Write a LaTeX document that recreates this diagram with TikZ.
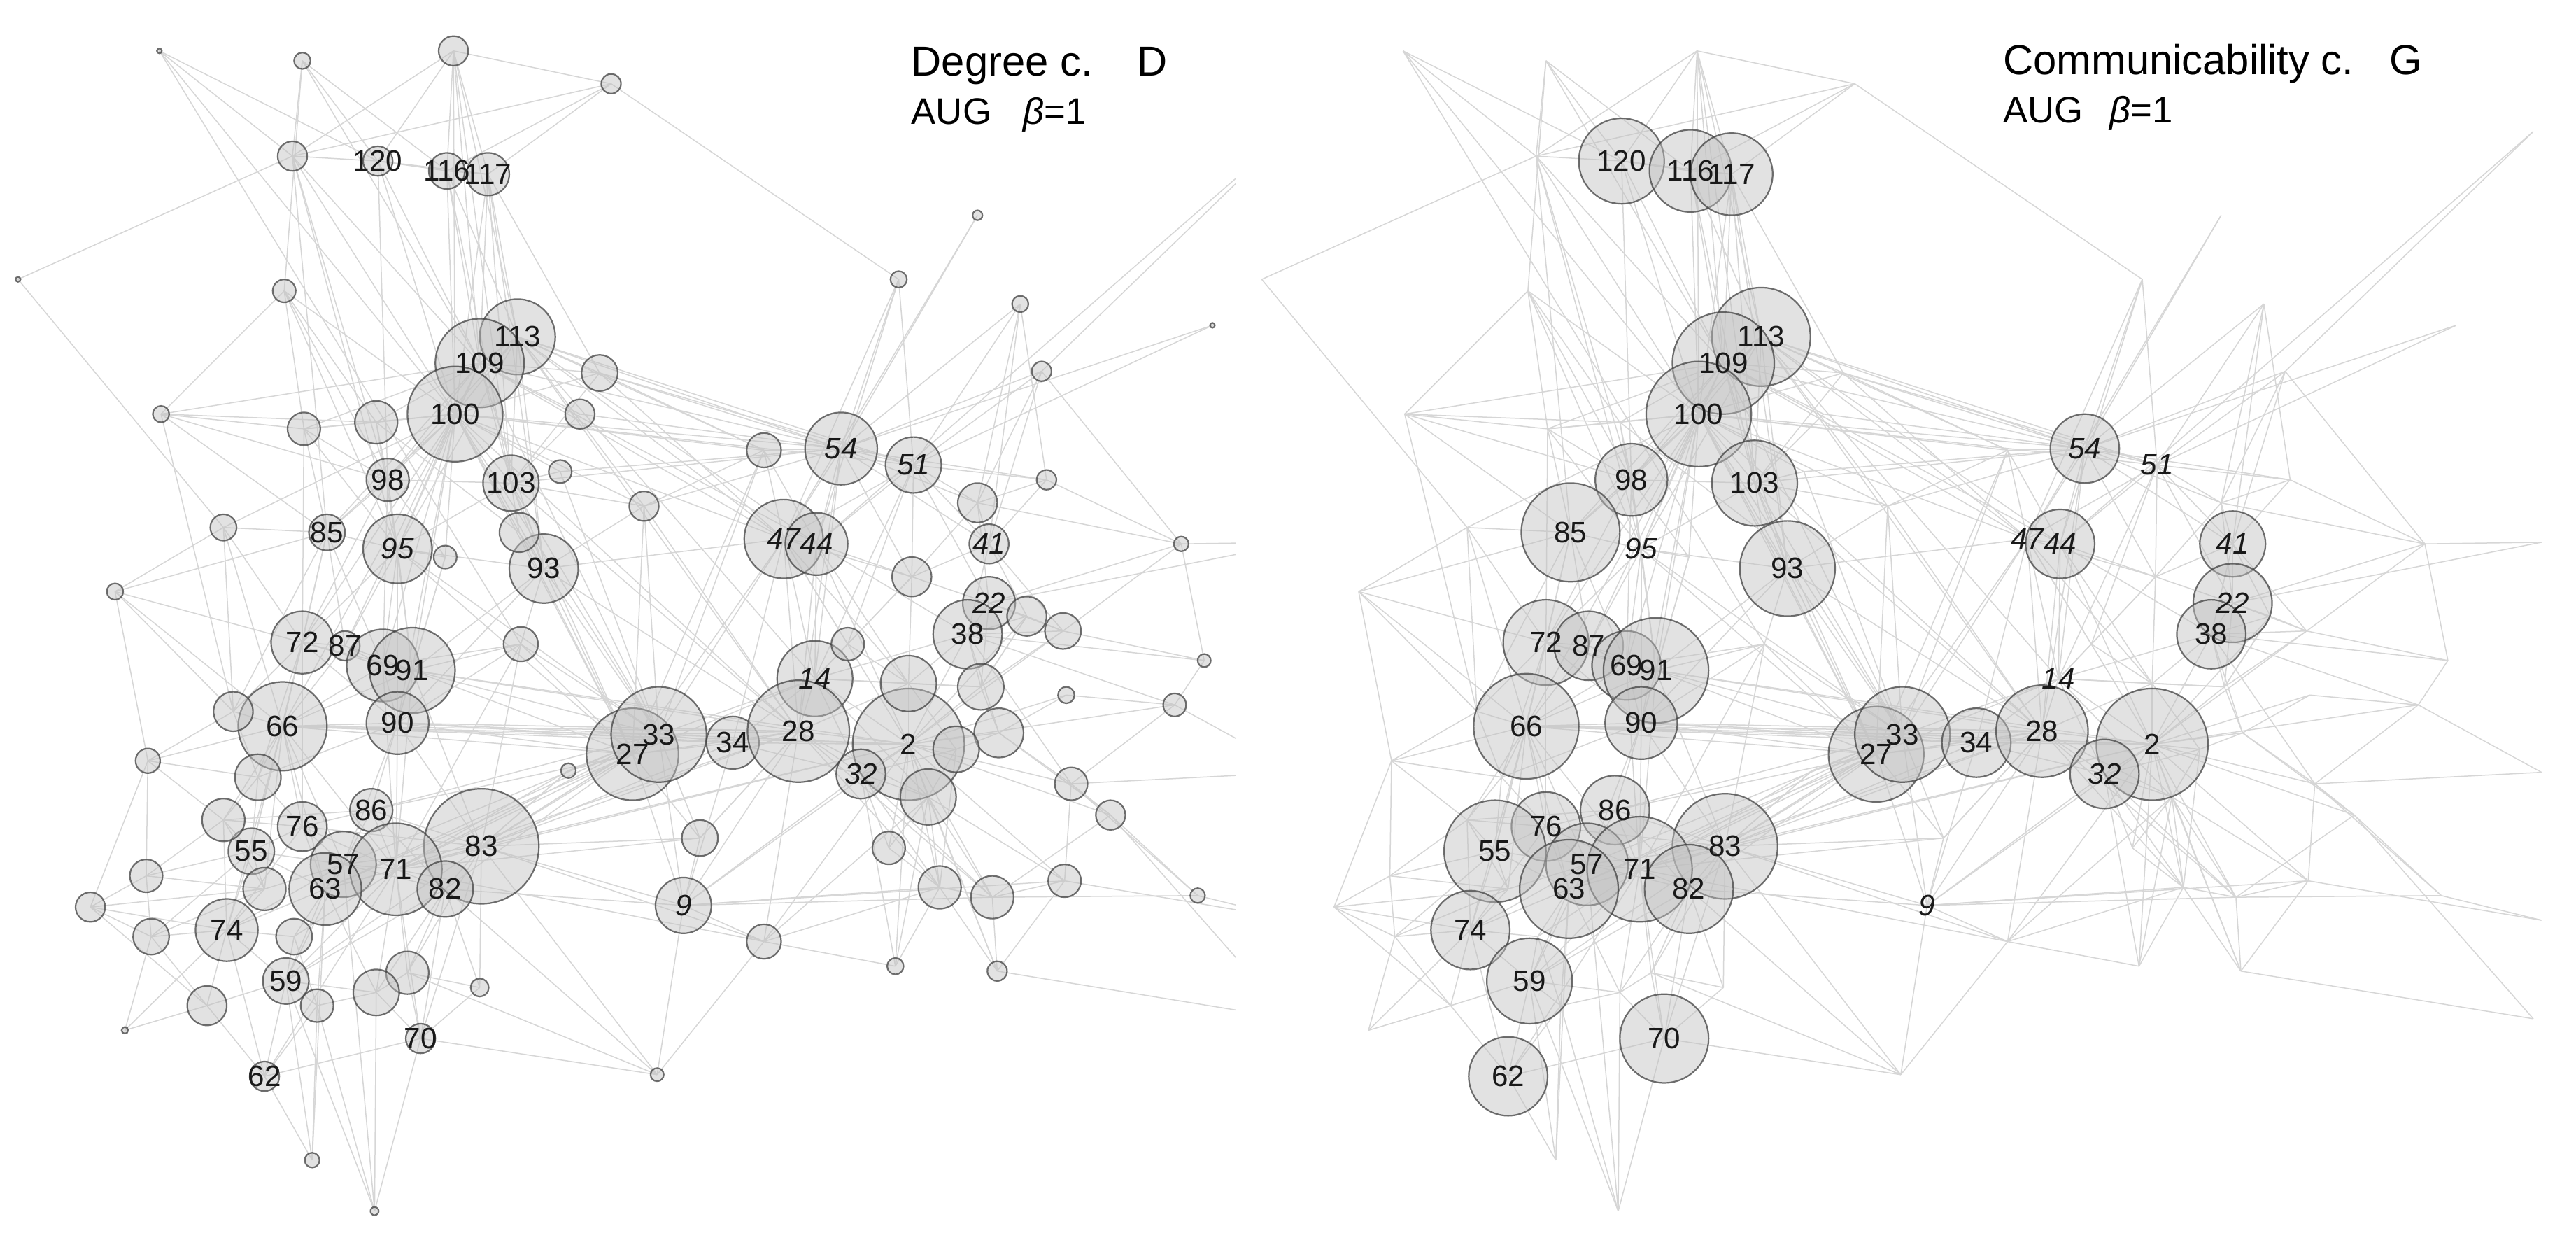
\documentclass[tikz,border=0pt]{standalone}
\usepackage{fontspec}
\setmainfont{Liberation Sans}
\definecolor{edgec}{HTML}{D6D6D6}
\definecolor{nodefill}{HTML}{C0C0C0}
\definecolor{nodeline}{HTML}{404040}
\pgfdeclarelayer{bg}
\pgfdeclarelayer{edges}
\pgfsetlayers{bg,edges,main}
\tikzset{
  nd/.style={circle, draw=nodeline, draw opacity=0.75, fill=nodefill, fill opacity=0.45, line width=0.22mm, inner sep=0pt, minimum size=#1*0.4696mm},
  edge/.style={draw=edgec, line width=0.15mm},
  lbl/.style={inner sep=0pt, text=black!90, font=\fontsize{12pt}{12pt}\selectfont},
  lbli/.style={inner sep=0pt, text=black!90, font=\fontsize{12pt}{12pt}\selectfont\itshape},
  ttl/.style={inner sep=0pt, anchor=base west, font=\fontsize{17pt}{17pt}\selectfont},
  ttlb/.style={inner sep=0pt, anchor=base west, font=\fontsize{15pt}{15pt}\selectfont}
}
% id/x/y/rLeft/rRight
\def\nodelist{n120/230/98/9/26, n116/272/104/11/25, n117/297/106/13/25, n113/315/205/23/30, n109/292/221/27/31, n100/277/252/29/32, n98/236/292/13/22, n103/311/294/17/26, n85/199/324/11/30, n95/242/334/21/0, n93/331/346/21/29, n54/512/273/22/21, n51/556/283/17/0, n47/477/328/24/0, n44/497/331/19/21, n41/602/331/12/20, n22/602/367/16/24, n38/589/386/21/21, n72/184/391/19/26, n87/210/393/9/21, n69/233/405/22/21, n91/251/408/26/32, n90/242/440/19/22, n66/172/442/27/32, n14/496/413/23/0, n27/385/459/28/29, n33/401/447/29/29, n34/446/452/16/21, n28/486/445/31/28, n2/553/453/34/34, n32/524/471/15/21, n76/184/503/15/21, n86/226/493/13/21, n55/153/518/14/31, n83/293/515/35/32, n57/209/526/20/25, n71/241/529/28/32, n63/198/541/22/30, n82/271/541/17/27, n9/416/551/17/0, n74/138/566/19/24, n59/174/597/14/26, n70/256/632/9/27, n62/161/655/9/24}
% unlabelled nodes: id/x/y/rLeft
\def\ulist{u1/97/31/1.5, u2/184/37/5, u3/276/31/9, u4/372/51/6, u5/178/95/9, u6/11/170/1.5, u7/173/177/7, u8/365/227/11, u9/353/252/9, u10/98/252/5, u11/185/261/10, u12/229/257/13, u13/465/274/10.5, u14/595/131/3, u15/547/170/5, u16/621/185/5, u17/634/226/6, u18/738/198/1.5, u19/341/287/7, u20/392/308/9, u21/637/292/6, u22/595/306/12, u23/136/321/8, u24/271/339/7, u25/316/324/12, u26/555/351/12, u27/70/360/5, u28/719/331/4.5, u29/317/392/10.5, u30/516/392/10, u31/647/384/11, u32/625/375/12, u33/733/402/4, u34/649/423/5, u35/715/429/7, u36/142/433/12, u37/553/416/17, u38/597/418/14, u39/608/446/15, u40/582/456/14, u41/90/463/7.5, u42/346/469/4.5, u43/157/473/14, u44/565/485/17, u45/652/477/10, u46/676/496/9, u47/136/499/13, u48/426/510/11, u49/541/516/10, u50/89/533/10, u51/161/541/13, u52/572/540/13, u53/604/546/13, u54/648/536/10, u55/729/545/4.5, u56/55/552/9, u57/92/570/11, u58/179/570/11, u59/465/573/10.5, u60/248/592/13, u61/292/601/5.5, u62/545/588/5, u63/607/591/6, u64/229/604/14, u65/193/612/10, u66/126/612/12, u67/76/627/2, u68/400/654/4, u69/190/706/4.5, u70/228/737/2.5}
\def\offlist{o1/785/80, o2/790/330, o3/790/470, o4/790/560, o5/785/620}
\def\uprightlabels{n120/120, n116/116, n117/117, n113/113, n109/109, n100/100, n98/98, n103/103, n85/85, n93/93, n38/38, n72/72, n87/87, n69/69, n91/91, n90/90, n66/66, n27/27, n33/33, n34/34, n28/28, n2/2, n76/76, n86/86, n55/55, n83/83, n57/57, n71/71, n63/63, n82/82, n74/74, n59/59, n70/70, n62/62}
\def\italiclabels{n95/95, n54/54, n51/51, n47/47, n44/44, n41/41, n22/22, n14/14, n32/32, n9/9}
\def\edgelist{u1/u5, u1/n120, u1/n100, u1/u29,
u2/u5, u2/n120, u2/n116, u2/n109, u2/u7,
u3/n116, u3/n117, u3/n120, u3/u4, u3/n113, u3/n109, u3/n100, u3/u5, u3/n103,
u4/n117, u4/n116, u4/u5, u4/u15,
u5/n120, u5/u6, u5/n100, u5/n98, u5/n95, u5/n109, u5/n85,
n120/n116, n120/n117, n120/n100, n120/n109, n120/n98,
n116/n117, n116/n113, n116/n109, n116/n100, n116/n103,
n117/n113, n117/n109, n117/n100, n117/n93, n117/n103, n117/u8,
u6/u23,
u7/u10, u7/u11, u7/u12, u7/n98, u7/n95, u7/n100,
n113/n109, n113/n100, n113/u8, n113/n103, n113/n93, n113/n54, n113/n51, n113/n47, n113/n44, n113/u13, n113/u20, n113/n95, n113/n98,
n109/n100, n109/u8, n109/u9, n109/n103, n109/n54, n109/n44, n109/n47, n109/n98, n109/n85, n109/n95, n109/u12, n109/u11, n109/u10, n109/n93,
n100/u8, n100/u9, n100/n103, n100/n98, n100/n95, n100/n85, n100/u12, n100/u11, n100/u10, n100/u23, n100/n93, n100/n72, n100/n69, n100/n91, n100/n90, n100/n66, n100/n54, n100/n51, n100/n47, n100/u13, n100/u20, n100/u19, n100/u25, n100/u24, n100/n87,
u8/n54, u8/n51, u8/u13, u8/n47, u8/n103,
u9/n54, u9/n103,
u10/u11, u10/u12, u10/n98, u10/n85, u10/u36,
u11/u12, u11/n98, u11/n85, u11/n95, u11/n72,
u12/n98, u12/n95, u12/u25,
u13/n54, u13/n47, u13/n44, u13/u20, u13/n33,
u14/n54, u14/n47,
u15/n54, u15/n51, u15/n44,
u16/n54, u16/n51, u16/u22, u16/n41,
u17/n54, u17/n51, u17/u22, u17/u28,
u18/n51, u18/n54,
n54/n51, n54/n47, n54/n44, n54/u22, n54/n41, n54/u21, n54/n103, n54/u20, n54/u19,
n51/n47, n51/n44, n51/u22, n51/n41, n51/u21, n51/n22,
n47/n44, n47/n14, n47/n28, n47/n2, n47/n33, n47/n27, n47/n93, n47/u26, n47/u30,
n44/n14, n44/n28, n44/u26, n44/n41, n44/n2, n44/u37,
n41/n22, n41/n38, n41/u22, n41/u26, n41/u28,
n22/n38, n22/u32, n22/u31, n22/u28, n22/u26,
n38/u38, n38/u37, n38/u32, n38/u31, n38/n2, n38/n14, n38/u35, n38/u33,
n98/n85, n98/n95, n98/n103, n98/u24,
n103/n93, n103/u19, n103/u25, n103/u20, n103/n95, n103/n33,
n85/n95, n85/u23, n85/n72, n85/n87, n85/u36,
n95/n93, n95/u24, n95/n72, n95/n69, n95/n91, n95/n90, n95/n87,
n93/u25, n93/u29, n93/n27, n93/n33, n93/n28, n93/u20, n93/n91, n93/n90,
u20/n33, u20/n27,
u23/n72, u23/u36, u23/n66,
u27/n72, u27/u36, u27/u41, u27/n66,
n72/n87, n72/n69, n72/n66, n72/u36, n72/n90, n72/n91,
n87/n69, n87/n91, n87/n66,
n69/n91, n69/n90, n69/n66, n69/u29,
n91/n90, n91/u29, n91/n66, n91/n27, n91/n33, n91/n2, n91/n28,
n90/n66, n90/n27, n90/n33, n90/n34, n90/n28, n90/u43, n90/n86, n90/n71,
n66/u36, n66/u43, n66/u41, n66/u47, n66/n76, n66/n55, n66/n27, n66/n33, n66/n2, n66/n28, n66/n34,
u29/n27, u29/n33, u29/n71, u29/n83,
u36/u41, u36/u43,
u43/u47, u43/n76, u43/n55, u43/u41,
u41/u50, u41/u56, u41/u47,
n27/n33, n27/n34, n27/n28, n27/n83, n27/n71, n27/n82, n27/u42, n27/n9, n27/u48, n27/n14,
n33/n34, n33/n28, n33/n14, n33/n83, n33/n71, n33/n57, n33/n2,
n34/n28, n34/n14, n34/n2, n34/n32,
n28/n14, n28/n2, n28/n32, n28/u37, n28/u44, n28/n9, n28/u48, n28/u59,
n14/u30, n14/u37, n14/n2, n14/u38, n14/n32,
n2/n32, n2/u37, n2/u38, n2/u39, n2/u40, n2/u44, n2/u45, n2/u46, n2/u49, n2/u52, n2/u53, n2/u54, n2/n9, n2/u34, n2/u35, n2/u31, n2/u32,
n32/u44, n32/u49, n32/u40, n32/u52, n32/u62,
u37/u38, u37/u30, u38/u39, u39/u40, u39/u45, u40/u44, u44/u52, u44/u53, u44/u54, u44/u62, u44/u63, u45/u46, u45/u54, u46/u55, u46/u53,
u30/u26, u26/n14, u26/u37,
n9/u53, n9/u52, n9/u59, n9/n83, n9/n82, n9/u68, n9/u48, n9/u54,
u59/u52, u59/u68, u59/u62, u59/n71,
u48/n83, u48/n71,
n83/n71, n83/n82, n83/n57, n83/n63, n83/n86, n83/n76, n83/u61, n83/u60, n83/u68, n83/n70, n83/u42, n83/n28,
n71/n57, n71/n63, n71/n82, n71/n86, n71/n76, n71/u60, n71/u64, n71/n70, n71/u58,
n82/n57, n82/n63, n82/u60, n82/u61, n82/n70, n82/u64,
n57/n63, n57/n76, n57/n86, n57/n55, n57/u51,
n63/n76, n63/n55, n63/u51, n63/n74, n63/u58, n63/n59, n63/u65, n63/u64,
n76/n86, n76/n55, n76/u47,
n86/u47,
n55/u47, n55/u51, n55/u50, n55/n74, n55/u57,
u51/u50, u51/n74, u51/u56, u51/u57,
n74/u57, n74/u56, n74/u58, n74/n59, n74/u66, n74/u67,
u58/n59, u58/u65,
n59/u65, n59/u66, n59/n62, n59/u64, n59/u69,
u64/u65, u64/n70, u64/u60, u64/u70,
u60/n70, u60/u61,
n62/u65, n62/u66, n62/n70, n62/u69,
n70/u70, n70/u68, n70/u61,
u67/u66, u67/u57, u69/u65, u70/u65,
u56/u50, u56/u57, u50/u57, u50/u47,
u42/n33,
u22/u21, u22/u28, u28/u31, u28/u33, u33/u31, u33/u35, u31/u32, u32/u38, u35/u34, u35/u45, u34/u39,
u49/u52, u52/u53, u53/u63, u53/u54, u62/u52, u63/u52,
o1/n44, o1/u17, o2/u28, o2/n22, o3/u45, o3/u35, o4/u55, o4/u54, o5/u63, o5/u46,
n100/n27, n100/n33, n100/n28, n109/n33, n113/n28, n113/n14, n103/n27, n103/n28, n95/n27, n95/n33,
n98/n72, n98/n69, n98/n91, n85/n66, n85/n69, n85/u27, u23/u27, n72/n76, n72/n55, n72/u43,
n69/n71, n91/n71, n91/n83, n90/n83, n90/n57, n66/n57, n66/n63, n66/n71, n66/u51, n66/n74,
n76/n74, n86/n82, n86/n27, n86/n33, n57/n74, n57/n59, n71/n59, n71/n62, n82/n59, n83/n59,
n83/n33, n83/n34, n83/n2, n71/n28, n71/n2, n63/n27, n63/n33, u47/n74, u47/u51, u57/u66,
u56/u66, n74/n62, n59/u70, n63/u69, n57/u70, u60/u68, n34/n9, n33/n9, n14/u44, n28/u53,
n28/u52, n32/u53, n32/n9, n2/u59, u44/u59, u37/u40, u38/u31, u38/u32, n22/u38, n41/u32,
n41/u31, n38/u39, n38/u45, u39/u46, u40/u52, n2/u63, n2/u62, u44/u49, u53/u55, u54/u63,
u45/u55, n54/n14, n54/n28, n54/u26, n51/u26, n51/n14, n51/u30, u22/n22, u22/u26, u21/n41,
u21/u28, u17/n41, u16/u21, u15/n47, n47/u37, n44/n38, n47/n34, u13/n27, u20/n28, u19/n33,
u25/n27, u24/n90, u24/n91, u29/n90, u42/n83, u42/n71, u48/n33, u48/n28, u59/n83, u68/n82}
\newcommand\drawedgesall{\foreach \a/\b in \edgelist {\draw[edge] (\a.center) -- (\b.center);}}
\newcommand\drawlabelsall{%
  \foreach \i/\t in \uprightlabels {\node[lbl] (\i-t) at (\i.center) {\t};}%
  \foreach \i/\t in \italiclabels {\node[lbli] (\i-t) at (\i.center) {\t};}%
  \foreach \i/\x/\y in \offlist {\coordinate (\i) at (\x,\y);}%
}
\begin{document}
\begin{tikzpicture}[x=0.2348mm, y=-0.2348mm]
\useasboundingbox (0,0) rectangle (1568,750);
\begin{pgfonlayer}{bg}
  \fill[white] (0,0) rectangle (1568,750);
\end{pgfonlayer}
% ---------------- left panel: degree centrality ----------------
\begin{scope}[name prefix=L-]
  \foreach \i/\x/\y/\r/\s in \nodelist {\node[nd=\r] (\i) at (\x,\y) {};}
  \foreach \i/\x/\y/\r in \ulist {\node[nd=\r] (\i) at (\x,\y) {};}
  \drawlabelsall
  \begin{pgfonlayer}{edges}
    \begin{scope}
      \clip (0,0) rectangle (752,750);
      \drawedgesall
    \end{scope}
  \end{pgfonlayer}
\end{scope}
\node[ttl] (tD1) at (554.5,46) {Degree c.};
\node[ttl] (tD2) at (692,46) {D};
\node[ttlb] (tD3) at (554.5,75.8) {AUG};
\node[ttlb] (tD4) at (622.6,75.8) {\textit{β}=1};
% ---------------- right panel: communicability centrality ----------------
\begin{scope}[shift={(757,0)}, name prefix=R-]
  \foreach \i/\x/\y/\r/\s in \nodelist {%
    \ifdim \s pt>0pt \node[nd=\s] (\i) at (\x,\y) {};\else \coordinate (\i) at (\x,\y);\fi}
  \foreach \i/\x/\y/\r in \ulist {\coordinate (\i) at (\x,\y);}
  \drawlabelsall
  \begin{pgfonlayer}{edges}
    \begin{scope}
      \clip (3,0) rectangle (811,750);
      \drawedgesall
    \end{scope}
  \end{pgfonlayer}
\end{scope}
\node[ttl] (tG1) at (1219,45.5) {Communicability c.};
\node[ttl] (tG2) at (1454,45.5) {G};
\node[ttlb] (tG3) at (1219,74.7) {AUG};
\node[ttlb] (tG4) at (1284,74.7) {\textit{β}=1};
\end{tikzpicture}
\end{document}
